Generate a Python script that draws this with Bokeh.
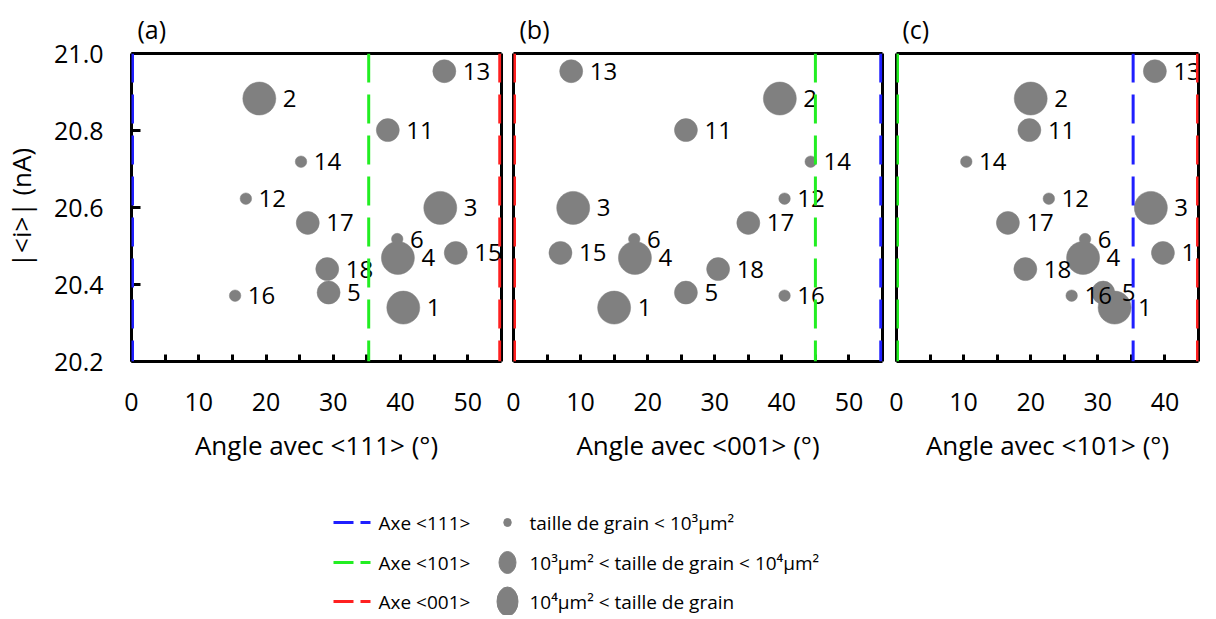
from bokeh.plotting import figure
from bokeh.models import (Range1d, FixedTicker, PrintfTickFormatter, Span, ColumnDataSource,
                          LabelSet, LinearAxis)
from bokeh.layouts import column, row
from bokeh.embed import file_html
from bokeh.resources import INLINE
from bokeh.core.properties import value

# ---------------- data ----------------
grains = ["1", "2", "3", "4", "5", "6", "11", "12", "13", "14", "15", "16", "17", "18"]
current_nA = [20.340, 20.883, 20.599, 20.469, 20.379, 20.518, 20.801,
              20.623, 20.954, 20.719, 20.482, 20.371, 20.560, 20.440]
grain_class = ["L", "L", "L", "L", "M", "S", "M", "S", "M", "S", "M", "S", "M", "M"]
angle_111 = [40.4, 19.0, 45.9, 39.6, 29.3, 39.5, 38.1, 17.0, 46.5, 25.2, 48.2, 15.4, 26.2, 29.1]
angle_001 = [15.0, 39.7, 8.9, 18.1, 25.7, 18.0, 25.7, 40.4, 8.6, 44.3, 7.0, 40.4, 35.0, 30.5]
angle_101 = [32.5, 20.0, 37.9, 27.8, 30.8, 28.1, 19.8, 22.7, 38.5, 10.4, 39.7, 26.1, 16.6, 19.2]

y_ticks = [20.2, 20.4, 20.6, 20.8, 21.0]
x_ticks_55 = [0, 10, 20, 30, 40, 50]
x_minor_55 = [5, 15, 25, 35, 45]
x_ticks_45 = [0, 10, 20, 30, 40]
x_minor_45 = [5, 15, 25, 35]

# crystallographic axes angles (deg)
ang_111_101 = 35.26
ang_111_001 = 54.74
ang_001_101 = 45.0

legend_axes = ["Axe <111>", "Axe <101>", "Axe <001>"]
legend_sizes = ["taille de grain < 10\u00b3\u00b5m\u00b2",
                "10\u00b3\u00b5m\u00b2 < taille de grain < 10\u2074\u00b5m\u00b2",
                "10\u2074\u00b5m\u00b2 < taille de grain"]

# ---------------- styles ----------------
FONT = "Open Sans"
BLUE = "#1f1fff"
GREEN = "#22ee22"
RED = "#ff2020"
GRAY = "#808080"
marker_px = {"S": 11.5, "M": 23, "L": 33}
DASH = "29 12"
H_ROW = 474
TOP = 53
FRAME_H = 308


def frame_axis():
    return LinearAxis(ticker=FixedTicker(ticks=[], minor_ticks=[]),
                      axis_line_width=3, axis_line_color="black",
                      major_tick_in=0, major_tick_out=0,
                      minor_tick_in=0, minor_tick_out=0,
                      major_label_standoff=0, major_label_text_font_size="1px")


def make_panel(title, angles, xmax, xticks, xminor, xlabel, lines, width, bl, br, show_y):
    p = figure(width=width, height=H_ROW, title=title,
               x_range=Range1d(0, xmax), y_range=Range1d(20.2, 21.0),
               output_backend="svg", toolbar_location=None,
               min_border_left=bl, min_border_right=br,
               min_border_top=TOP, min_border_bottom=H_ROW - TOP - FRAME_H)
    p.title.align = "left"
    p.title.offset = 6
    p.title.standoff = 16
    p.title.text_font = FONT
    p.title.text_font_size = "25px"
    p.title.text_font_style = "normal"
    p.title.text_color = "black"
    p.xgrid.visible = False
    p.ygrid.visible = False
    p.outline_line_color = None

    ax = p.xaxis[0]
    ax.ticker = FixedTicker(ticks=xticks, minor_ticks=xminor)
    ax.major_tick_in = 7
    ax.major_tick_out = 0
    ax.minor_tick_in = 7
    ax.minor_tick_out = 0
    ax.major_tick_line_width = 3
    ax.minor_tick_line_width = 3
    ax.axis_line_width = 3
    ax.major_label_standoff = 31
    ax.major_label_text_font = FONT
    ax.major_label_text_font_size = "25px"
    ax.major_label_text_color = "black"
    ax.axis_label = xlabel
    ax.axis_label_text_font = FONT
    ax.axis_label_text_font_size = "26px"
    ax.axis_label_text_font_style = "normal"
    ax.axis_label_text_color = "black"
    ax.axis_label_standoff = 13

    ay = p.yaxis[0]
    if show_y:
        ay.ticker = FixedTicker(ticks=y_ticks, minor_ticks=[])
        ay.formatter = PrintfTickFormatter(format="%.1f")
        ay.major_tick_in = 9
        ay.major_tick_out = 0
        ay.major_tick_line_width = 3
        ay.axis_line_width = 3
        ay.major_label_standoff = 28
        ay.major_label_text_font = FONT
        ay.major_label_text_font_size = "25px"
        ay.major_label_text_color = "black"
        ay.axis_label = "|<i>| (nA)"
        ay.axis_label_text_font = FONT
        ay.axis_label_text_font_size = "26px"
        ay.axis_label_text_font_style = "normal"
        ay.axis_label_text_color = "black"
        ay.axis_label_standoff = 12
    else:
        ay.visible = False
        p.add_layout(frame_axis(), "left")
    p.add_layout(frame_axis(), "right")
    p.add_layout(frame_axis(), "above")

    sizes = [marker_px[c] for c in grain_class]
    src = ColumnDataSource(dict(x=angles, y=current_nA, s=sizes,
                                dx=[s / 2 + 7 for s in sizes], lab=grains))
    p.scatter("x", "y", size="s", source=src, fill_color=GRAY, line_color=GRAY,
              line_width=0.5)
    p.add_layout(LabelSet(x="x", y="y", text="lab", x_offset="dx", source=src,
                          text_font=value(FONT), text_font_size="24px",
                          text_color="black", text_align="left",
                          text_baseline="middle"))

    x0, x1 = 0, xmax
    for loc, col in lines:
        on_edge = abs(loc - x0) < 1e-9 or abs(loc - x1) < 1e-9
        p.add_layout(Span(location=loc, dimension="height", line_color=col,
                          line_width=5 if on_edge else 3, line_dash=DASH))
    return p


pa = make_panel("(a)", angle_111, 55, x_ticks_55, x_minor_55, "Angle avec <111> (°)",
                [(0, BLUE), (ang_111_101, GREEN), (ang_111_001, RED)],
                505, 131, 4, True)
pb = make_panel("(b)", angle_001, 55, x_ticks_55, x_minor_55, "Angle avec <001> (°)",
                [(0, RED), (ang_001_101, GREEN), (ang_111_001, BLUE)],
                383, 8, 6, False)
pc = make_panel("(c)", angle_101, 45, x_ticks_45, x_minor_45, "Angle avec <101> (°)",
                [(0, GREEN), (ang_111_101, BLUE), (ang_001_101, RED)],
                324, 8, 14, False)

# ---------------- legend ----------------
LW, LH = 1212, 141
pl = figure(width=LW, height=LH, x_range=Range1d(0, LW), y_range=Range1d(LH, 0),
            output_backend="svg", toolbar_location=None, min_border=0)
pl.axis.visible = False
pl.grid.visible = False
pl.outline_line_color = None

row_y = [48, 88, 127]
line_cols = [BLUE, GREEN, RED]
pl.segment(x0=[333] * 3, y0=row_y, x1=[370] * 3, y1=row_y, line_color=line_cols,
           line_width=3, line_dash="20 7")
pl.text(x=[378] * 3, y=row_y, text=legend_axes, text_font=value(FONT),
        text_font_size="19px", text_color="black", text_align="left",
        text_baseline="middle")
pl.ellipse(x=[507] * 3, y=row_y, width=[7.5, 17, 21], height=[8, 22, 29],
           width_units="screen", height_units="screen",
           fill_color=GRAY, line_color=GRAY)
pl.text(x=[529] * 3, y=row_y, text=legend_sizes, text_font=value(FONT),
        text_font_size="19px", text_color="black", text_align="left",
        text_baseline="middle")

layout = column(row(pa, pb, pc), pl)
open("out.html", "w").write(file_html(layout, INLINE))
